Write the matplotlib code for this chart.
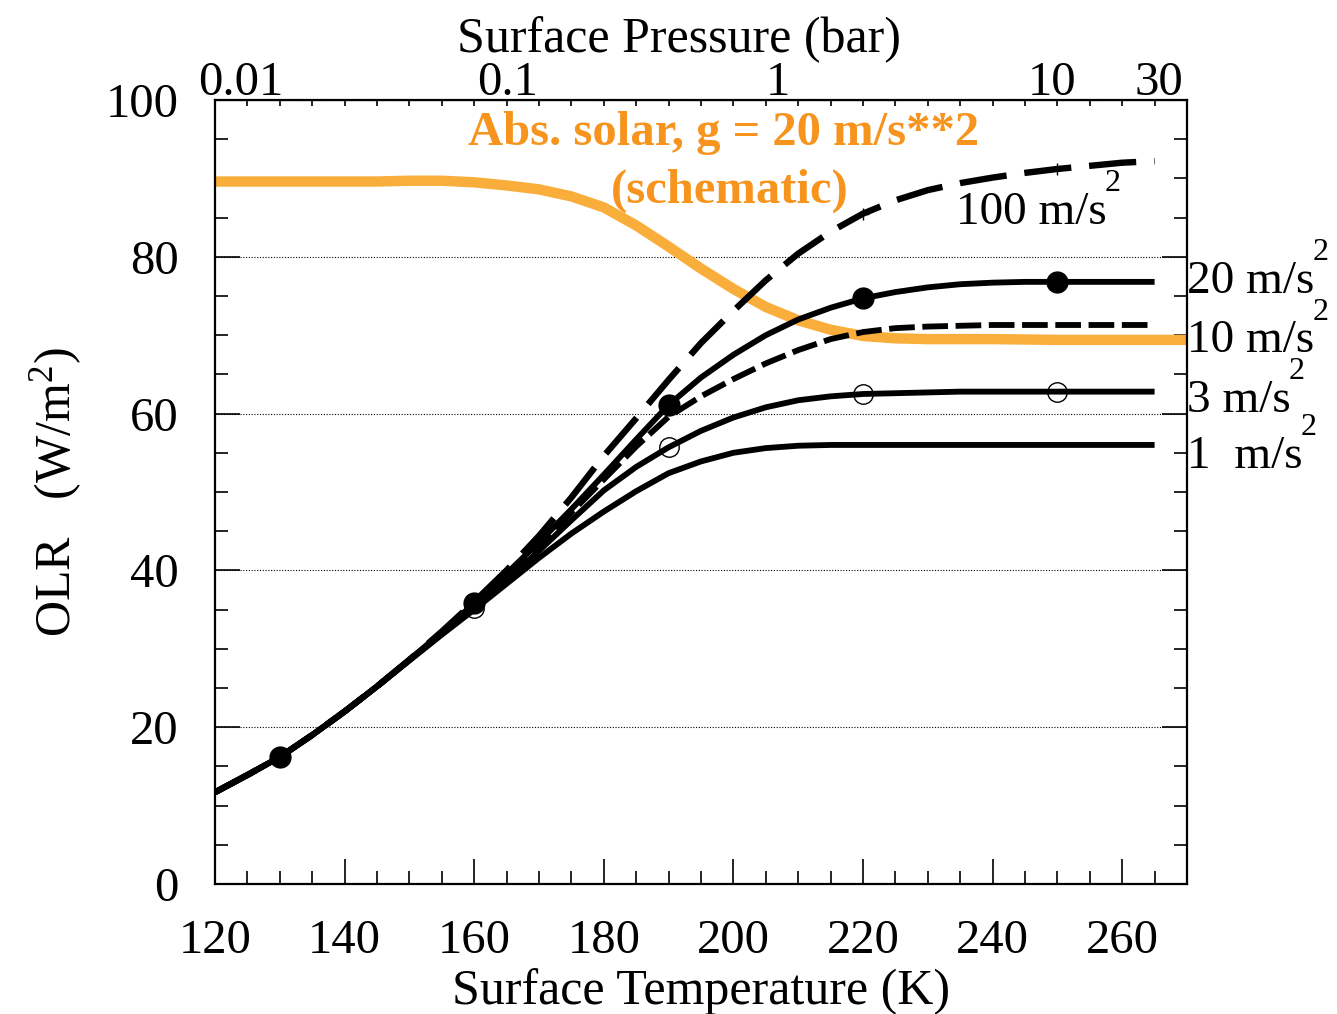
"""
OLR vs surface temperature for several surface gravities,
with a schematic absorbed-solar curve for g = 20 m/s**2.
Values read off the reference figure.
"""

import matplotlib
matplotlib.use("Agg")
import matplotlib.pyplot as plt
from matplotlib.ticker import MultipleLocator

# surface temperature grid (K)
TEMP = [120, 125, 130, 135, 140, 145, 150, 155, 160, 165,
        170, 175, 180, 185, 190, 195, 200, 205, 210, 215,
        220, 225, 230, 235, 240, 245, 250, 255, 260, 265]

# OLR (W/m^2), one series per surface gravity
OLR_G1   = [11.7, 13.9, 16.2, 19.0, 22.0, 25.2, 28.5, 31.8, 35.0, 38.3,
            41.6, 44.7, 47.5, 50.1, 52.4, 53.9, 55.0, 55.6, 55.9, 56.0,
            56.0, 56.0, 56.0, 56.0, 56.0, 56.0, 56.0, 56.0, 56.0, 56.0]
OLR_G3   = [11.7, 13.9, 16.2, 19.0, 22.0, 25.2, 28.6, 31.9, 35.2, 38.7,
            42.5, 46.4, 50.2, 53.2, 55.7, 57.8, 59.5, 60.8, 61.7, 62.2,
            62.5, 62.6, 62.7, 62.8, 62.8, 62.8, 62.8, 62.8, 62.8, 62.8]
OLR_G10  = [11.7, 13.9, 16.2, 19.0, 22.0, 25.2, 28.6, 32.0, 35.5, 39.2,
            43.2, 47.4, 51.6, 55.8, 59.6, 62.2, 64.4, 66.4, 68.1, 69.5,
            70.4, 70.9, 71.1, 71.2, 71.3, 71.3, 71.3, 71.3, 71.3, 71.3]
OLR_G20  = [11.7, 13.9, 16.2, 19.0, 22.0, 25.2, 28.6, 32.1, 35.8, 39.6,
            43.6, 47.8, 52.2, 56.7, 61.1, 64.6, 67.5, 70.0, 72.0, 73.5,
            74.7, 75.5, 76.1, 76.5, 76.7, 76.8, 76.8, 76.8, 76.8, 76.8]
OLR_G100 = [11.7, 13.9, 16.2, 19.0, 22.0, 25.2, 28.6, 32.2, 36.0, 40.0,
            44.4, 49.3, 54.6, 59.4, 64.3, 69.0, 73.1, 77.0, 80.4, 83.2,
            85.5, 87.2, 88.5, 89.4, 90.1, 90.7, 91.2, 91.6, 92.0, 92.2]

# schematic absorbed solar, g = 20 m/s**2
SOLAR_T = [120, 125, 130, 135, 140, 145, 150, 155, 160, 165,
           170, 175, 180, 185, 190, 195, 200, 205, 210, 215,
           220, 225, 230, 240, 250, 260, 270]
SOLAR   = [89.6, 89.6, 89.6, 89.6, 89.6, 89.6, 89.7, 89.7, 89.5, 89.1,
           88.6, 87.7, 86.3, 84.0, 81.3, 78.5, 75.9, 73.6, 71.9, 70.7,
           69.9, 69.6, 69.5, 69.5, 69.4, 69.4, 69.4]

MARK_T = [130, 160, 190, 220, 250]
CROSS_T = [220, 250]

# top axis: surface pressure (bar) at the matching temperatures
P_LABELS = ["0.01", "0.1", "1", "10", "30"]
P_TICK_T = [123.9, 165.2, 206.9, 249.2, 265.6]

ORANGE_LINE = "#f9ae3c"
ORANGE_TEXT = "#f7941d"

plt.rcParams.update({
    "font.family": "Liberation Serif",
    "mathtext.fontset": "custom",
    "mathtext.rm": "Liberation Serif",
    "mathtext.it": "Liberation Serif:italic",
    "font.size": 34,
    "lines.solid_capstyle": "butt",
    "lines.dash_capstyle": "butt",
})

fig = plt.figure(figsize=(13.37, 10.14), dpi=100)
ax = fig.add_axes([0.1608, 0.1282, 0.7270, 0.7732])

ax.plot(SOLAR_T, SOLAR, color=ORANGE_LINE, lw=7.5, zorder=2)

marks = [TEMP.index(t) for t in MARK_T]
crosses = [TEMP.index(t) for t in CROSS_T]
ax.plot(TEMP, OLR_G1, color="black", lw=4.2, zorder=3)
ax.plot(TEMP, OLR_G3, color="black", lw=4.2, zorder=3,
        marker="o", markevery=marks, ms=14, mfc="none", mec="black", mew=1.0)
ax.plot(TEMP, OLR_G10, color="black", lw=4.2, zorder=3, dashes=(4.4, 1.3))
ax.plot(TEMP, OLR_G20, color="black", lw=4.2, zorder=4,
        marker="o", markevery=marks, ms=15, mfc="black", mec="black")
ax.plot(TEMP, OLR_G100, color="black", lw=4.6, zorder=3, dashes=(7.4, 2.8),
        marker="+", markevery=crosses, ms=9, mew=1.0)

ax.set_xlim(120, 270)
ax.set_ylim(0, 100)
ax.xaxis.set_major_locator(MultipleLocator(20))
ax.xaxis.set_minor_locator(MultipleLocator(5))
ax.yaxis.set_major_locator(MultipleLocator(20))
ax.yaxis.set_minor_locator(MultipleLocator(5))
ax.set_xticks([120, 140, 160, 180, 200, 220, 240, 260])

ax.tick_params(which="both", direction="in", width=1.2,
               left=True, right=True, bottom=True, top=True,
               labeltop=False, labelsize=35)
ax.tick_params(axis="y", which="major", length=18, pad=26)
ax.tick_params(axis="y", which="minor", length=9.5)
ax.tick_params(axis="x", which="major", length=18, pad=25)
ax.tick_params(axis="x", which="minor", length=9.5)
for spine in ax.spines.values():
    spine.set_linewidth(1.6)
for tick in ax.xaxis.get_minor_ticks() + ax.xaxis.get_major_ticks():
    tick.tick2line.set_markersize(4)

ax.grid(axis="y", which="major", ls=(0, (1, 1.5)), lw=0.8, color="black")
ax.set_axisbelow(True)

ax.set_xlabel("Surface Temperature (K)", fontsize=36, labelpad=4)
ax.set_ylabel("OLR   (W/m$^2$)", fontsize=36, labelpad=16)

top = ax.secondary_xaxis("top")
top.set_xticks(P_TICK_T, labels=P_LABELS)
top.tick_params(length=0, pad=-3.5, labelsize=35)
top.set_xlabel("Surface Pressure (bar)", fontsize=36)
top.xaxis.set_label_coords(0.508, 0.949, transform=fig.transFigure)

ax.text(198.5, 94.2, "Abs. solar, g = 20 m/s**2", color=ORANGE_TEXT,
        fontsize=35, fontweight="bold", ha="center", va="baseline")
ax.text(199.5, 86.9, "(schematic)", color=ORANGE_TEXT,
        fontsize=35, fontweight="bold", ha="center", va="baseline")


def unit_label(x, y, text, transform):
    base = ax.text(x, y, text, fontsize=34, va="baseline",
                   transform=transform, clip_on=False)
    ax.annotate("2", xy=(1.0, 1.0), xycoords=base, xytext=(-1.5, -5),
                textcoords="offset points", fontsize=23,
                ha="left", va="bottom", annotation_clip=False)


unit_label(234.3, 84.2, "100 m/s", ax.transData)
curve_labels = [("20 m/s", 75.4), ("10 m/s", 67.8),
                ("3 m/s", 60.2), ("1  m/s", 53.1)]
for text, yb in curve_labels:
    unit_label(1.0, yb, text, ax.get_yaxis_transform())

fig.savefig("out.png", dpi=100)
